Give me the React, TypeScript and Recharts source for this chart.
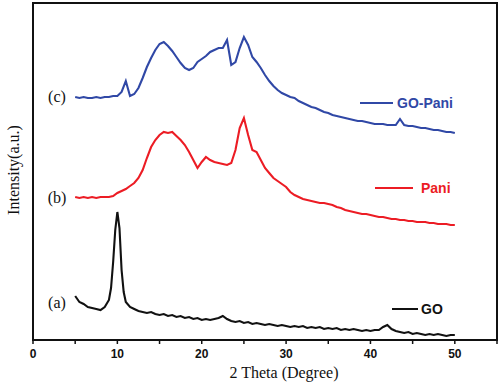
import React from 'react';
import { LineChart, Line, XAxis, YAxis } from 'recharts';

const goTheta = [5,5.5,6,6.5,7,7.5,8,8.5,9,9.25,9.5,9.75,10,10.25,10.5,10.75,11,11.5,12,12.5,13,13.5,14,14.5,15,15.5,16,16.5,17,17.5,18,18.5,19,19.5,20,20.5,21,21.5,22,22.5,23,23.5,24,24.5,25,25.5,26,26.5,27,27.5,28,28.5,29,29.5,30,30.5,31,31.5,32,32.5,33,33.5,34,34.5,35,35.5,36,36.5,37,37.5,38,38.5,39,39.5,40,40.5,41,41.5,42,42.5,43,43.5,44,44.5,45,45.5,46,46.5,47,47.5,48,48.5,49,49.5,50];
const goIntensity = [44,38,36,33,32,31,30,33,40,52,78,110,128,112,70,48,38,33,31,29,28,27,28,26,25,26,24,25,23,24,22,23,21,22,20,21,20,21,22,24,21,19,18,19,17,18,16,17,16,15,16,15,14,15,14,13,14,13,14,12,13,12,13,11,12,11,12,10,11,10,11,10,9,10,9,10,10,13,15,11,9,8,7,8,6,7,6,5,6,5,6,5,4,5,5];

const thetaGrid = [5,5.5,6,6.5,7,7.5,8,8.5,9,9.5,10,10.5,11,11.5,12,12.5,13,13.5,14,14.5,15,15.5,16,16.5,17,17.5,18,18.5,19,19.5,20,20.5,21,21.5,22,22.5,23,23.5,24,24.5,25,25.5,26,26.5,27,27.5,28,28.5,29,29.5,30,30.5,31,31.5,32,32.5,33,33.5,34,34.5,35,35.5,36,36.5,37,37.5,38,38.5,39,39.5,40,40.5,41,41.5,42,42.5,43,43.5,44,44.5,45,45.5,46,46.5,47,47.5,48,48.5,49,49.5,50];
const paniIntensity = [143,142,143,142,143,142,143,143,143,144,147,149,151,154,157,162,170,182,193,200,205,208,207,208,204,200,195,188,180,172,178,183,180,178,177,176,175,177,190,212,222,205,190,188,180,172,167,162,159,156,153,148,145,143,141,140,139,138,137,137,136,135,133,132,130,129,128,127,126,126,125,124,123,123,122,121,121,120,120,119,119,118,118,118,117,117,116,116,116,115,115];
const goPaniIntensity = [243,242,243,242,242,243,242,243,243,244,244,248,259,244,246,252,262,273,282,290,296,298,294,289,283,277,272,270,272,278,281,284,288,290,292,292,300,275,278,292,303,295,283,278,272,265,259,254,250,247,245,243,242,239,237,235,233,232,230,228,227,225,224,223,222,221,220,219,219,218,217,216,216,216,215,215,215,221,215,214,214,213,212,212,211,210,210,209,208,208,207];

const xTicks = [0,5,10,15,20,25,30,35,40,45,50,55];

const goData = goTheta.map((x, i) => ({ x, y: goIntensity[i] }));
const paniData = thetaGrid.map((x, i) => ({ x, y: paniIntensity[i] }));
const goPaniData = thetaGrid.map((x, i) => ({ x, y: goPaniIntensity[i] }));

const BLUE = '#3048a6';
const RED = '#ec1c24';
const BLACK = '#111111';

const Tick = (props: any) => {
  const { x, y, payload } = props;
  const v = payload.value;
  if (v % 10 !== 0) return null;
  return (
    <text x={x} y={y + 12} textAnchor="middle" fontFamily="Arial, 'Liberation Sans', sans-serif" fontWeight="bold" fontSize={12} fill="#111">
      {v}
    </text>
  );
};

export default function App() {
  return (
    <div style={{ position: 'absolute', left: 0, top: 0, width: 500, height: 383, background: '#fff' }}>
      <LineChart width={500} height={383} data={goData} margin={{ top: 3, right: 3, left: 33, bottom: 0 }}>
        <XAxis
          dataKey="x"
          type="number"
          domain={[0, 55]}
          ticks={xTicks}
          interval={0}
          height={43}
          tickSize={4}
          tick={<Tick />}
          axisLine={{ stroke: '#111', strokeWidth: 2 }}
          tickLine={{ stroke: '#111', strokeWidth: 1.5 }}
          allowDuplicatedCategory={false}
        />
        <YAxis type="number" domain={[0, 337]} width={0} tick={false} tickLine={false} axisLine={{ stroke: '#111', strokeWidth: 2 }} />
        <Line data={goData} dataKey="y" stroke={BLACK} strokeWidth={2.1} dot={false} isAnimationActive={false} type="linear" />
        <Line data={paniData} dataKey="y" stroke={RED} strokeWidth={2.1} dot={false} isAnimationActive={false} type="linear" />
        <Line data={goPaniData} dataKey="y" stroke={BLUE} strokeWidth={2.1} dot={false} isAnimationActive={false} type="linear" />
      </LineChart>
      <svg width={500} height={383} style={{ position: 'absolute', left: 0, top: 0, pointerEvents: 'none' }}>
        <rect x={33} y={3} width={464} height={337} fill="none" stroke="#111" strokeWidth={2} />
        <text x={284} y={378} textAnchor="middle" fontFamily="'Liberation Serif', 'Times New Roman', serif" fontSize={16} fill="#111">2 Theta (Degree)</text>
        <text transform="translate(19,170) rotate(-90)" textAnchor="middle" fontFamily="'Liberation Serif', 'Times New Roman', serif" fontSize={16} fill="#111">Intensity(a.u.)</text>
        <text x={57} y={102} textAnchor="middle" fontFamily="'Liberation Serif', 'Times New Roman', serif" fontSize={16} fill="#111">(c)</text>
        <text x={57} y={203} textAnchor="middle" fontFamily="'Liberation Serif', 'Times New Roman', serif" fontSize={16} fill="#111">(b)</text>
        <text x={57} y={308} textAnchor="middle" fontFamily="'Liberation Serif', 'Times New Roman', serif" fontSize={16} fill="#111">(a)</text>
        <line x1={360} x2={393} y1={103} y2={103} stroke={BLUE} strokeWidth={2} />
        <text x={397} y={108} fontFamily="Arial, 'Liberation Sans', sans-serif" fontWeight="bold" fontSize={14} fill={BLUE}>GO-Pani</text>
        <line x1={375} x2={413} y1={188} y2={188} stroke={RED} strokeWidth={2} />
        <text x={421} y={193} fontFamily="Arial, 'Liberation Sans', sans-serif" fontWeight="bold" fontSize={14} fill={RED}>Pani</text>
        <line x1={392} x2={418} y1={309} y2={309} stroke={BLACK} strokeWidth={2} />
        <text x={421} y={314} fontFamily="Arial, 'Liberation Sans', sans-serif" fontWeight="bold" fontSize={14} fill={BLACK}>GO</text>
      </svg>
    </div>
  );
}
